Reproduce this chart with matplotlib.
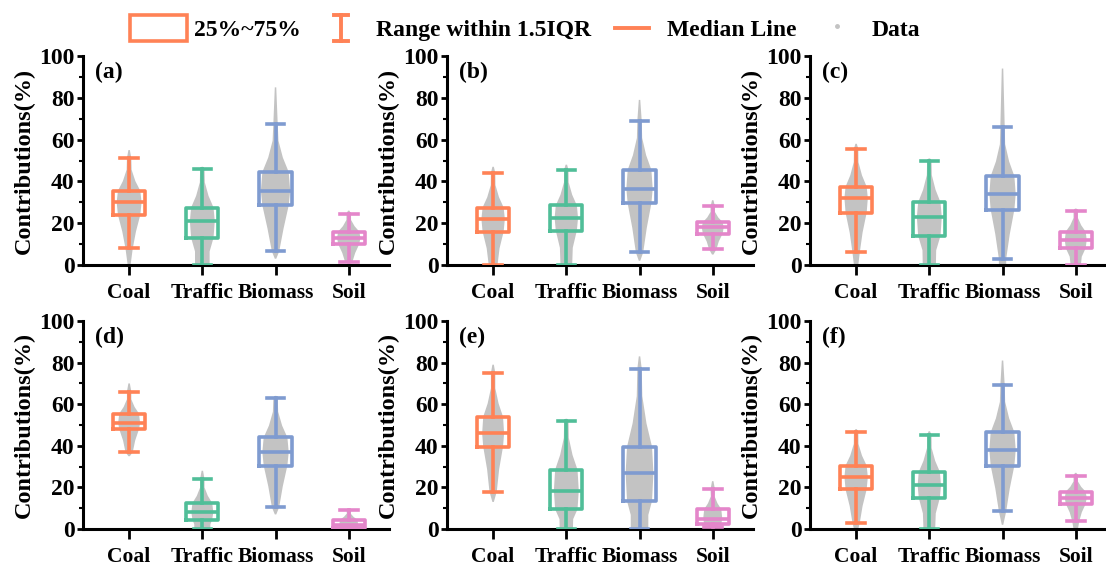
import numpy as np
import matplotlib.pyplot as plt
from matplotlib.patches import Patch, Polygon
from matplotlib.lines import Line2D
from matplotlib.legend_handler import HandlerBase

plt.rcParams['font.family'] = 'serif'
plt.rcParams['font.serif'] = ['Liberation Serif', 'Times New Roman', 'DejaVu Serif']
plt.rcParams['font.weight'] = 'bold'

sources = ['Coal', 'Traffic', 'Biomass', 'Soil']
panels = ['(a)', '(b)', '(c)', '(d)', '(e)', '(f)']
colors = ['#FF8256', '#50BE98', '#7F9BD0', '#E486CA']
grey = '#C3C3C3'

# box statistics per panel, one value per source (Coal, Traffic, Biomass, Soil)
whislo = [[8, 0, 6.5, 1.5], [0, 0, 6, 7.5], [6, 0, 3, 0],
          [37, 0, 10.5, 0], [18, 0, 0, 1], [3, 0, 8.5, 4]]
q1 = [[24, 13, 28.5, 10], [16, 16.5, 29.5, 15], [25, 14, 26.5, 8],
      [48, 4.5, 30.5, 0.5], [39.5, 9.5, 13.5, 2.5], [19, 15, 30.5, 12]]
med = [[30, 21, 35.5, 13], [22, 22.5, 36.5, 18], [32, 23, 34, 12],
       [51, 8, 37, 2], [46, 18.5, 27, 5], [25, 21, 38, 15]]
q3 = [[35.5, 27.5, 44.5, 16], [27.5, 28.5, 45.5, 20.5], [37.5, 30, 42.5, 16],
      [55.5, 12.5, 44, 4.5], [54, 28.5, 39.5, 9.5], [30.5, 27.5, 46.5, 18]]
whishi = [[51, 46, 67.5, 24.5], [44, 45.5, 69, 28], [55.5, 50, 66, 26],
          [66, 24, 63, 9], [75, 52, 77, 19], [46.5, 45, 69, 25.5]]

# extent and spread of the grey data cloud behind each box
cloud_lo = [[0, 0, 3, 1], [0, 0, 2, 5], [0, 0, 0, 0],
            [35, 0, 7, 0], [13, 0, 0, 1], [0, 0, 2, 0]]
cloud_hi = [[55, 47, 85, 26], [47, 48, 79, 31], [58, 51, 94, 27],
            [70, 28, 64, 10], [79, 53, 83, 23], [48, 47, 81, 27]]
cloud_w = [[0.17, 0.17, 0.20, 0.16], [0.16, 0.16, 0.18, 0.15], [0.16, 0.17, 0.18, 0.15],
           [0.15, 0.15, 0.18, 0.13], [0.15, 0.17, 0.19, 0.13], [0.16, 0.16, 0.18, 0.15]]
cloud_base = [[0.02, 0.10, 0.01, 0.01], [0.06, 0.08, 0.01, 0.01], [0.03, 0.09, 0.05, 0.07],
              [0.01, 0.11, 0.01, 0.10], [0.01, 0.09, 0.12, 0.04], [0.03, 0.08, 0.01, 0.03]]

positions = [1, 2, 3, 4]


class IconHandler(HandlerBase):
    def __init__(self, kind):
        super().__init__()
        self.kind = kind

    def create_artists(self, legend, orig_handle, xdescent, ydescent,
                       width, height, fontsize, trans):
        cx = -xdescent + width / 2
        y0, y1 = -ydescent, -ydescent + height
        if self.kind == 'whisker':
            h = 0.12 * width
            arts = [Line2D([cx, cx], [y0, y1]),
                    Line2D([cx - h, cx + h], [y0, y0]),
                    Line2D([cx - h, cx + h], [y1, y1])]
        else:
            h = 0.3 * width
            arts = [Line2D([cx - h, cx + h], [(y0 + y1) / 2] * 2)]
        for a in arts:
            a.set_color(orig_handle.get_color())
            a.set_linewidth(2.8)
            a.set_transform(trans)
        return arts


fig = plt.figure(figsize=(11.06, 5.68), dpi=100)

W, H = 1106, 568
col_left = [83, 447, 810]
row_bot = [265, 529]
row_top = [56, 321]
ax_w = 306
lw = 2.6

for p in range(6):
    r, c = divmod(p, 3)
    ax = fig.add_axes([col_left[c] / W, 1 - row_bot[r] / H, ax_w / W,
                       (row_bot[r] - row_top[r]) / H])

    # grey data clouds
    for i, x in enumerate(positions):
        lo, wl, a, m, b, wh, hi = (cloud_lo[p][i], whislo[p][i], q1[p][i], med[p][i],
                                   q3[p][i], whishi[p][i], cloud_hi[p][i])
        w = cloud_w[p][i]
        base = cloud_base[p][i]
        ys = [lo, wl, (wl + a) / 2, a, m, b, b + 0.3 * (wh - b), b + 0.65 * (wh - b), wh, hi]
        hw = [base, max(base, 0.05), max(base, 0.55 * w), 0.9 * w, w, 0.9 * w,
              0.5 * w, 0.2 * w, 0.03, 0.01]
        xs = [x - v for v in hw] + [x + v for v in hw[::-1]]
        yy = ys + ys[::-1]
        ax.add_patch(Polygon(np.column_stack([xs, yy]), closed=True,
                             facecolor=grey, edgecolor='none', zorder=1))

    stats = []
    for i in range(4):
        stats.append(dict(whislo=whislo[p][i], q1=q1[p][i], med=med[p][i],
                          q3=q3[p][i], whishi=whishi[p][i], fliers=[]))
    bp = ax.bxp(stats, positions=positions, widths=0.44, capwidths=0.24,
                showfliers=False, patch_artist=False, zorder=3)
    for i, col in enumerate(colors):
        bp['boxes'][i].set(color=col, linewidth=lw)
        bp['medians'][i].set(color=col, linewidth=lw)
        for k in (2 * i, 2 * i + 1):
            bp['whiskers'][k].set(color=col, linewidth=lw)
            bp['caps'][k].set(color=col, linewidth=lw)

    ax.set_xlim(0.37, 4.55)
    ax.set_ylim(0, 100)
    ax.set_yticks([0, 20, 40, 60, 80, 100])
    ax.set_yticks([10, 30, 50, 70, 90], minor=True)
    ax.set_xticks(positions)
    ax.set_xticklabels(sources, fontsize=15.5, fontweight='bold')
    for lab in ax.get_yticklabels():
        lab.set_fontsize(17)
        lab.set_fontweight('bold')
    ax.tick_params(axis='x', direction='out', length=7, width=2, pad=6)
    ax.tick_params(axis='y', which='major', direction='out', length=4, width=2, pad=2)
    ax.tick_params(axis='y', which='minor', direction='out', length=3, width=1.5)
    for s in ('top', 'right'):
        ax.spines[s].set_visible(False)
    for s in ('left', 'bottom'):
        ax.spines[s].set_linewidth(2.2)
    ax.set_ylabel('Contributions(%)', fontsize=17.5, fontweight='bold', labelpad=3)
    ax.text(0.04, 0.92, panels[p], transform=ax.transAxes, fontsize=17,
            fontweight='bold', va='center', ha='left')

h_box = Patch(facecolor='white', edgecolor=colors[0], linewidth=2.6)
h_whisk = Line2D([], [], color=colors[0])
h_med = Line2D([], [], color=colors[0])
h_data = Line2D([], [], color=grey, marker='o', markersize=2.5, linestyle='none')
fig.legend([h_box, h_whisk, h_med, h_data],
           ['25%~75%', 'Range within 1.5IQR', 'Median Line', 'Data'],
           handler_map={h_whisk: IconHandler('whisker'), h_med: IconHandler('median')},
           loc='center', bbox_to_anchor=(0.475, 1 - 28 / H), ncol=4, frameon=False,
           handlelength=2.4, handleheight=1.3, handletextpad=0.3, columnspacing=0.5,
           prop={'weight': 'bold', 'size': 17})

fig.savefig('out.png', dpi=100)
